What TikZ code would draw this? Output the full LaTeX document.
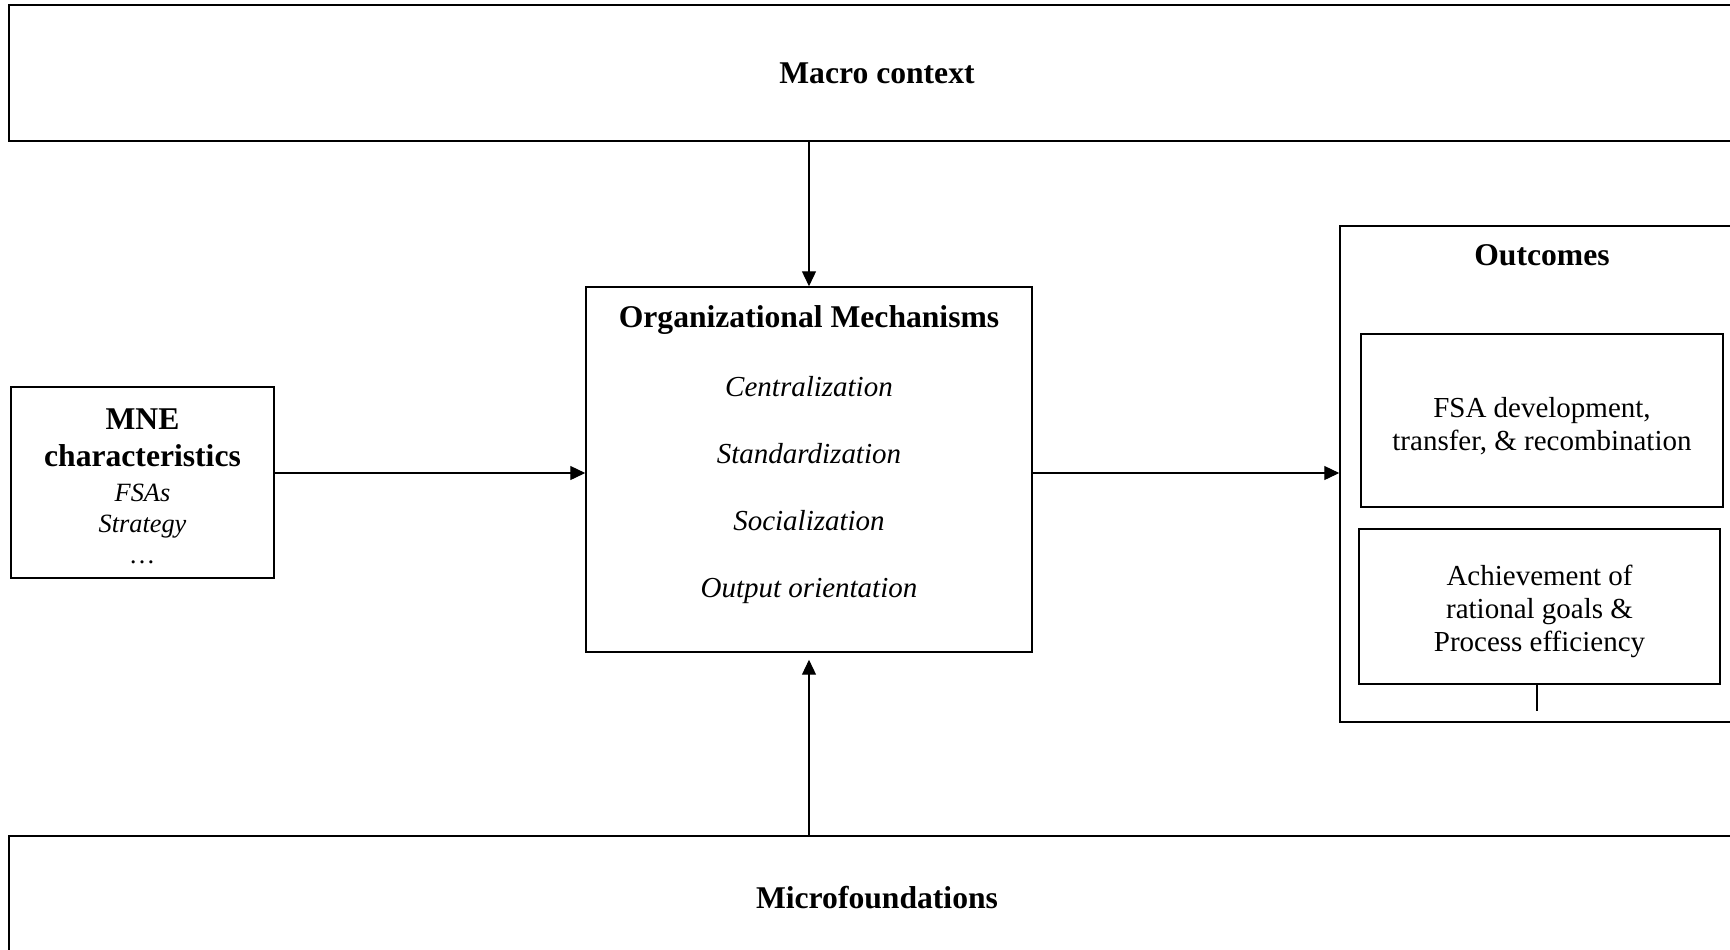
\documentclass[tikz,border=0pt]{standalone}
\usepackage{fontspec}
\setmainfont{Liberation Serif}
\usetikzlibrary{arrows.meta}

\newcommand{\mnehead}{\fontsize{18}{21}\selectfont\upshape\bfseries}

\begin{document}
\begin{tikzpicture}[>={Triangle[length=8.5pt,width=8pt]},auto,line width=0.9pt,
        box/.style={draw,rectangle,inner sep=0pt},
        title/.style={font=\fontsize{18}{21}\selectfont\bfseries},
        item/.style={align=center,font=\fontsize{16.5}{19}\selectfont},
        arrow/.style={->,line width=0.6pt}]
        \useasboundingbox (0,0) rectangle (34.6,-18.98);

        % outer context boxes
        \node[box,title,minimum width=34.72cm,minimum height=2.72cm] (macro) at (17.54,-1.46) {Macro context};
        \node[box,title,minimum width=34.72cm,minimum height=2.48cm] (micro) at (17.54,-17.96) {Microfoundations};

        % mechanisms
        \node[box,minimum width=8.92cm,minimum height=7.3cm] (om) at (16.18,-9.39) {};
        \node[title] (omtitle) at (16.18,-6.41) {Organizational Mechanisms};
        \node[item,font=\fontsize{16.5}{38}\selectfont\itshape] (omitems) at (16.18,-9.8)
            {Centralization\\ Standardization\\ Socialization\\ Output orientation};
        \coordinate (omin) at ([yshift=-0.07cm]om.west);
        \coordinate (omout) at ([yshift=-0.07cm]om.east);

        % MNE characteristics
        \node[box,minimum width=5.26cm,minimum height=3.82cm] (mne) at (2.85,-9.65) {};
        \node[align=center,font=\fontsize{15}{17.6}\selectfont\itshape] (mnetext) at (2.85,-9.72)
            {\mnehead MNE\\[3.4pt] \mnehead characteristics\\[2.3pt] FSAs\\ Strategy\\ \ldots};

        % outcomes
        \node[box,minimum width=8.1cm,minimum height=9.92cm] (out) at (30.85,-9.48) {};
        \node[title] (outtitle) at (30.84,-5.1) {Outcomes};
        \node[box,minimum width=7.24cm,minimum height=3.46cm] (fsa) at (30.84,-8.41) {};
        \node[item] (fsatext) at (30.84,-8.52) {FSA development,\\ transfer, \& recombination};
        \node[box,minimum width=7.22cm,minimum height=3.1cm] (ach) at (30.79,-12.13) {};
        \node[item] (achtext) at (30.79,-12.23) {Achievement of\\ rational goals \&\\ Process efficiency};
        \coordinate (tick) at (30.74,-14.22);

        % arrows
        \draw[arrow] (macro.south -| om.north) -- (om.north);
        \draw[arrow,shorten >=0.14cm] (micro.north -| om.south) -- (om.south);
        \draw[arrow] (mne.east |- omin) -- (omin);
        \draw[arrow] (omout) -- (out.west |- omout);
        \draw[line width=0.6pt] (ach.south -| tick) -- (tick);
\end{tikzpicture}
\end{document}
